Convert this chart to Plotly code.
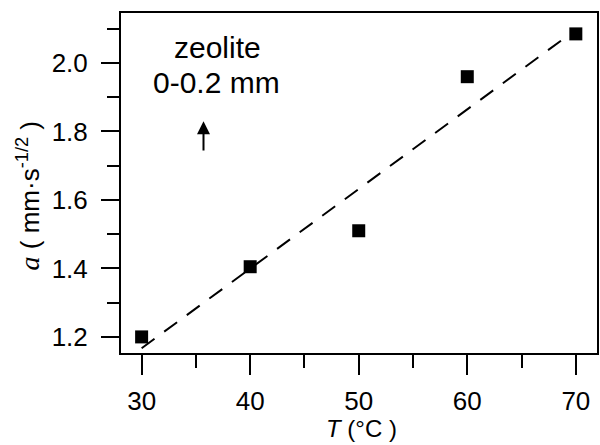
import numpy as np
import plotly.graph_objects as go

# Data
temperature_c = [30, 40, 50, 60, 70]
diffusivity_a = [1.20, 1.405, 1.51, 1.96, 2.085]

x_tick_vals = [30, 40, 50, 60, 70]
y_tick_vals = [1.2, 1.4, 1.6, 1.8, 2.0]
y_tick_text = ["1.2", "1.4", "1.6", "1.8", "2.0"]

# least-squares fit line through the data
slope, intercept = np.polyfit(temperature_c, diffusivity_a, 1)
fit_x = [min(temperature_c), max(temperature_c)]
fit_y = [slope * v + intercept for v in fit_x]

FONT = "Liberation Sans, Arial, sans-serif"

fig = go.Figure()
fig.add_trace(go.Scatter(
    x=fit_x, y=fit_y, mode="lines",
    line=dict(color="black", width=2, dash="16px,12px"),
    hoverinfo="skip", showlegend=False))
fig.add_trace(go.Scatter(
    x=temperature_c, y=diffusivity_a, mode="markers",
    marker=dict(symbol="square", size=13, color="black"),
    showlegend=False))

fig.update_layout(
    width=600, height=445,
    margin=dict(l=121, r=1, t=13, b=92),
    paper_bgcolor="white", plot_bgcolor="white",
    font=dict(family=FONT, size=25, color="black"),
    xaxis=dict(
        range=[28.1, 71.95], tickvals=x_tick_vals,
        ticks="outside", ticklen=20, tickwidth=2, tickcolor="black",
        minor=dict(dtick=5, tick0=0, ticks="outside", ticklen=13, tickwidth=2, tickcolor="black"),
        showline=True, linewidth=2, linecolor="black", mirror=True,
        showgrid=False, zeroline=False,
        tickfont=dict(family=FONT, size=26), ticklabelstandoff=4),
    yaxis=dict(
        range=[1.153, 2.146], tickvals=y_tick_vals, ticktext=y_tick_text,
        ticks="outside", ticklen=18, tickwidth=2, tickcolor="black",
        minor=dict(dtick=0.1, tick0=0, ticks="outside", ticklen=12, tickwidth=2, tickcolor="black"),
        showline=True, linewidth=2, linecolor="black", mirror=True,
        showgrid=False, zeroline=False,
        tickfont=dict(family=FONT, size=26), ticklabelstandoff=8),
    annotations=[
        dict(text="zeolite", x=36.97, y=2.044, xref="x", yref="y",
             showarrow=False, font=dict(family=FONT, size=30), xanchor="center", yanchor="middle"),
        dict(text="0-0.2 mm", x=36.9, y=1.942, xref="x", yref="y",
             showarrow=False, font=dict(family=FONT, size=30), xanchor="center", yanchor="middle"),
        dict(text="", x=35.7, y=1.83, ax=35.7, ay=1.74, xref="x", yref="y",
             axref="x", ayref="y", showarrow=True, arrowhead=2, arrowsize=1.3,
             arrowwidth=2, arrowcolor="black"),
        dict(text="<span style='font-family:Liberation Serif;font-size:28px'><i>a</i></span> ( mm·s<sup>-1/2</sup> )",
             textangle=-90,
             x=(28 - 121) / 478, y=(353 - 196) / 340, xref="paper", yref="paper",
             showarrow=False, font=dict(family=FONT, size=26), xanchor="center", yanchor="middle"),
        dict(text="<i>T</i> (°C )", x=(363 - 121) / 478, y=(340 - (428 - 13)) / 340,
             xref="paper", yref="paper", showarrow=False, font=dict(family=FONT, size=24),
             xanchor="center", yanchor="middle"),
    ],
)

fig.write_html("out.html", config={"displayModeBar": False},
               post_script="document.body.style.margin='0';")
